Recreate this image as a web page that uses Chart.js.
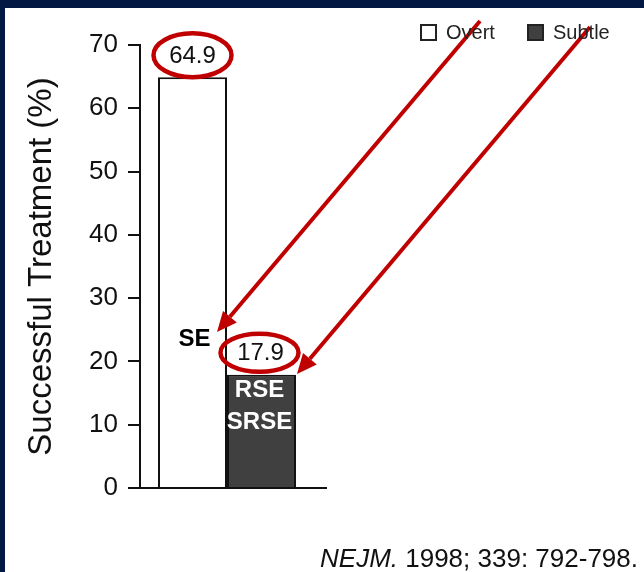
<!DOCTYPE html>
<html>
<head>
<meta charset="utf-8">
<script src="https://cdn.jsdelivr.net/npm/chart.js@4/dist/chart.umd.min.js"></script>
<style>
  html, body { margin: 0; padding: 0; background: #fff; }
  canvas { display: block; }
</style>
</head>
<body>
<canvas id="se_chart" width="644" height="572"></canvas>
<script>
// data
const seriesNames = ['Overt', 'Subtle'];
const seriesValues = [64.9, 17.9];
const seriesColors = ['#ffffff', '#404040'];
const yTicks = [0, 10, 20, 30, 40, 50, 60, 70];
const yTitle = 'Successful Treatment (%)';
const citeItalic = 'NEJM.';
const citeRest = ' 1998; 339: 792-798.';

const FONT = "'Liberation Sans', Arial, Helvetica, sans-serif";
const RED = '#c00000';

const drawArrow = (ctx, x0, y0, x1, y1) => {
  const ang = Math.atan2(y1 - y0, x1 - x0);
  const len = 20, half = 9;
  const bx = x1 - len * Math.cos(ang), by = y1 - len * Math.sin(ang);
  ctx.strokeStyle = RED;
  ctx.lineWidth = 4;
  ctx.beginPath();
  ctx.moveTo(x0, y0);
  ctx.lineTo(bx, by);
  ctx.stroke();
  ctx.fillStyle = RED;
  ctx.beginPath();
  ctx.moveTo(x1, y1);
  ctx.lineTo(bx + half * Math.sin(ang), by - half * Math.cos(ang));
  ctx.lineTo(bx - half * Math.sin(ang), by + half * Math.cos(ang));
  ctx.closePath();
  ctx.fill();
};

const frame = {
  id: 'frame',
  beforeDraw: (chart) => {
    const ctx = chart.ctx;
    ctx.save();
    ctx.fillStyle = '#031944';
    ctx.fillRect(0, 0, chart.width, chart.height);
    ctx.fillStyle = '#ffffff';
    ctx.fillRect(5, 8, chart.width - 5, chart.height - 8);
    ctx.restore();
  }
};

const notes = {
  id: 'notes',
  afterDatasetsDraw: (chart) => {
    const ctx = chart.ctx;
    const y = chart.scales.y;
    const b1 = chart.getDatasetMeta(0).data[0];
    const b2 = chart.getDatasetMeta(1).data[0];
    ctx.save();

    // x axis line (runs a bit past the y axis on both sides)
    ctx.strokeStyle = '#111';
    ctx.lineWidth = 2;
    ctx.beginPath();
    ctx.moveTo(chart.chartArea.left - 12, y.getPixelForValue(0));
    ctx.lineTo(chart.chartArea.right + 13, y.getPixelForValue(0));
    ctx.stroke();

    // value labels with red rings
    [b1, b2].forEach((bar, i) => {
      const cy = bar.y - 22;
      ctx.fillStyle = '#111';
      ctx.font = '24px ' + FONT;
      ctx.textAlign = 'center';
      ctx.textBaseline = 'middle';
      ctx.fillText(seriesValues[i].toFixed(1), bar.x + (i ? -1 : 0), cy + 1);
      ctx.strokeStyle = RED;
      ctx.lineWidth = 4.5;
      ctx.beginPath();
      ctx.ellipse(bar.x + (i ? -2 : 0), cy, 39, i ? 19 : 22, 0, 0, Math.PI * 2);
      ctx.stroke();
    });

    // text notes
    ctx.font = 'bold 24px ' + FONT;
    ctx.fillStyle = '#000';
    ctx.fillText('SE', b1.x + 2, y.getPixelForValue(23.5));
    ctx.fillStyle = '#fff';
    ctx.fillText('RSE', b2.x - 2, y.getPixelForValue(15.5));
    ctx.fillText('SRSE', b2.x - 2, y.getPixelForValue(10.4));

    // arrows from the legend
    drawArrow(ctx, 480, 21, 217, 332);
    drawArrow(ctx, 590, 27, 297, 374);

    // legend
    ctx.font = '20px ' + FONT;
    ctx.textAlign = 'left';
    const lx = [421, 528];
    seriesNames.forEach((name, i) => {
      ctx.fillStyle = seriesColors[i];
      ctx.fillRect(lx[i], 25, 15, 15);
      ctx.strokeStyle = '#222';
      ctx.lineWidth = 2;
      ctx.strokeRect(lx[i], 25, 15, 15);
      ctx.fillStyle = '#222';
      ctx.fillText(name, lx[i] + 25, 33);
    });

    // citation
    ctx.fillStyle = '#111';
    ctx.textBaseline = 'alphabetic';
    ctx.font = '26px ' + FONT;
    const restW = ctx.measureText(citeRest).width;
    ctx.textAlign = 'right';
    ctx.fillText(citeRest, 638, 567);
    ctx.font = 'italic 26px ' + FONT;
    ctx.fillText(citeItalic, 638 - restW, 567);
    ctx.restore();
  }
};

const createChart = () => {
  const ctx = document.getElementById('se_chart').getContext('2d');
  const datasets = seriesNames.map((name, i) => ({
    label: name,
    data: [seriesValues[i]],
    backgroundColor: seriesColors[i],
    borderColor: '#111',
    borderWidth: 2,
    categoryPercentage: 0.793,
    barPercentage: 1.0
  }));
  new Chart(ctx, {
    type: 'bar',
    data: { labels: [''], datasets: datasets },
    options: {
      responsive: false,
      animation: false,
      layout: { padding: { left: 0, top: 45, right: 330, bottom: 84 } },
      plugins: { legend: { display: false }, tooltip: { enabled: false } },
      scales: {
        x: { display: false },
        y: {
          min: 0,
          max: 70,
          afterFit: (s) => { s.width = 140; },
          afterBuildTicks: (s) => { s.ticks = yTicks.map(v => ({ value: v })); },
          ticks: {
            color: '#111',
            padding: 10,
            font: { family: FONT, size: 26 }
          },
          grid: {
            display: true,
            drawOnChartArea: false,
            tickLength: 12,
            color: '#111',
            lineWidth: 2
          },
          border: { display: true, color: '#111', width: 2 },
          title: {
            display: true,
            text: yTitle,
            color: '#111',
            padding: { top: 22, bottom: 0 },
            font: { family: FONT, size: 33 }
          }
        }
      }
    },
    plugins: [frame, notes]
  });
};

document.addEventListener('DOMContentLoaded', createChart);
</script>
</body>
</html>
